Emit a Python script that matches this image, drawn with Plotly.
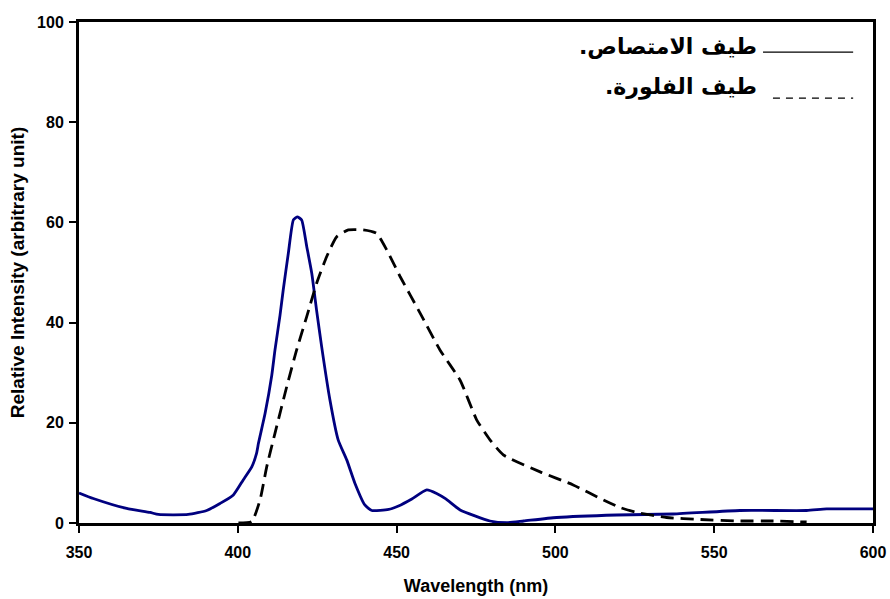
import plotly.graph_objects as go

# Absorption spectrum (solid navy)
abs_wl = [350, 354.5, 365, 372.4, 375, 384.4, 390.2, 394.4, 398.6, 401.7, 404.4, 405.9,
          406.5, 408.6, 410.7, 411.7, 413.3, 414.3, 415.9, 417.5, 418.7, 420.1, 421.7,
          423.3, 424.8, 426.4, 429.0, 431.6, 434.3, 436.9, 440.0, 442.2, 447.5, 450.6,
          454.8, 459.5, 462.6, 465.5, 470.0, 479.4, 484.7, 490, 500.4, 519.3, 537.1,
          558.1, 579.1, 585.4, 600]
abs_val = [6.0, 4.9, 2.9, 2.1, 1.7, 1.7, 2.5, 3.9, 5.6, 8.6, 11.2, 13.9,
           15.9, 21.9, 29.5, 34.5, 41.5, 46.5, 53.8, 60.5, 61.1, 60.5, 55.2,
           49.8, 42.5, 35.2, 24.6, 16.6, 12.6, 7.9, 3.6, 2.5, 2.7, 3.4,
           4.8, 6.6, 5.9, 4.8, 2.6, 0.4, 0.06, 0.4, 1.1, 1.6, 1.8,
           2.5, 2.5, 2.8, 2.8]

# Fluorescence spectrum (dashed black)
fl_wl = [400.2, 404.4, 407.0, 409.1, 411.7, 415.4, 418.5, 421.7, 424.8, 428.0, 431.1,
         434.8, 439.5, 443.7, 446.9, 451.1, 457.4, 463.7, 470.0, 475.2, 479.4, 483.6,
         495.2, 505.6, 515.1, 520.3, 525.6, 535.0, 545.5, 558.1, 568.6, 579.1]
fl_val = [0, 0.3, 4.6, 11.2, 17.9, 27.2, 34.5, 41.2, 47.8, 53.2, 57.1,
          58.5, 58.5, 57.8, 54.5, 49.2, 41.9, 34.5, 28.5, 20.6, 16.6, 13.6,
          10.2, 7.6, 4.6, 3.1, 2.1, 1.1, 0.7, 0.4, 0.4, 0.2]

x_ticks = [350, 400, 450, 500, 550, 600]
y_ticks = [0, 20, 40, 60, 80, 100]

legend_labels = ["طيف الامتصاص.", "طيف الفلورة."]
x_title = "Wavelength (nm)"
y_title = "Relative Intensity (arbitrary unit)"

fig = go.Figure()
fig.add_trace(go.Scatter(x=abs_wl, y=abs_val, mode="lines",
                         line=dict(color="#00007f", width=2.8, shape="spline", smoothing=0.5),
                         name=legend_labels[0]))
fig.add_trace(go.Scatter(x=fl_wl, y=fl_val, mode="lines",
                         line=dict(color="black", width=2.8, dash="13px,7px", shape="spline", smoothing=0.5),
                         name=legend_labels[1]))

font_main = "Liberation Sans, Arial, DejaVu Sans, sans-serif"
font_ar = "DejaVu Sans, Liberation Sans, sans-serif"
RLM = "\u200f"

# Custom legend: Arabic text with line samples to the right
fig.add_annotation(xref="paper", yref="paper", x=0.857, y=0.952, xanchor="right", yanchor="middle",
                   text="<b>" + legend_labels[0] + RLM + "</b>", showarrow=False,
                   font=dict(family=font_ar, size=22, color="black"))
fig.add_annotation(xref="paper", yref="paper", x=0.857, y=0.870, xanchor="right", yanchor="middle",
                   text="<b>" + legend_labels[1] + RLM + "</b>", showarrow=False,
                   font=dict(family=font_ar, size=22, color="black"))
fig.add_shape(type="line", xref="paper", yref="paper", x0=0.8615, x1=0.975, y0=0.940, y1=0.940,
              line=dict(color="black", width=1.2))
fig.add_shape(type="line", xref="paper", yref="paper", x0=0.874, x1=0.975, y0=0.848, y1=0.848,
              line=dict(color="black", width=1.2, dash="7px,6px"))

fig.update_layout(
    width=890, height=599,
    margin=dict(l=79, r=17, t=22, b=76),
    paper_bgcolor="white", plot_bgcolor="white",
    showlegend=False,
    font=dict(family=font_main, size=16, color="black"),
)
fig.update_xaxes(range=[350, 600], tickvals=x_ticks, ticktext=[f"<b>{v}</b>" for v in x_ticks],
                 showline=True, linecolor="black", linewidth=3, mirror=True,
                 ticks="outside", ticklen=7, tickwidth=1.5, tickcolor="black",
                 showgrid=False, zeroline=False, automargin=False, ticklabelstandoff=6,
                 title=dict(text=f"<b>{x_title}</b>", font=dict(size=18), standoff=20),
                 tickfont=dict(size=16))
fig.update_yaxes(range=[0, 100], tickvals=y_ticks, ticktext=[f"<b>{v}</b>" for v in y_ticks],
                 showline=True, linecolor="black", linewidth=3, mirror=True,
                 ticks="outside", ticklen=7, tickwidth=1.5, tickcolor="black",
                 showgrid=False, zeroline=False, automargin=False, ticklabelstandoff=2,
                 title=dict(text=f"<b>{y_title}</b>", font=dict(size=19), standoff=8),
                 tickfont=dict(size=16))

# Remove the default page margin so the 890x599 figure fills the window exactly.
fig.write_html("out.html",
               config={"displayModeBar": False},
               post_script="document.body.style.margin='0';document.body.style.overflow='hidden';")
